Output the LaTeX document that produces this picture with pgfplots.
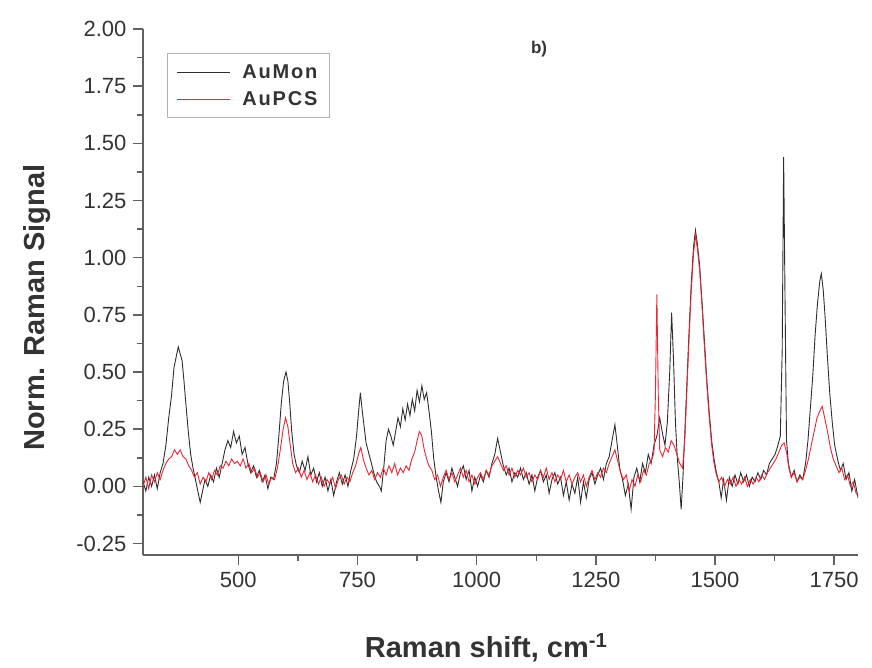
\documentclass[border=0pt]{standalone}
\usepackage{pgfplots}
\pgfplotsset{compat=1.18}
\usepackage{fontspec}
\setmainfont{Liberation Sans}
\definecolor{axgray}{gray}{0.38}
\definecolor{txtgray}{gray}{0.2}
\definecolor{monline}{rgb}{0.18,0.18,0.18}
\definecolor{pcsline}{rgb}{0.93,0.15,0.2}
\begin{document}
\begin{tikzpicture}
\begin{axis}[
  scale only axis,
  width=715pt, height=526pt,
  xmin=300, xmax=1800, ymin=-0.3, ymax=2.0,
  axis lines*=left,
  axis line style={axgray, line width=1.8pt},
  every tick/.style={axgray, line width=1.5pt},
  tick align=outside,
  major tick length=10pt, minor tick length=6pt,
  xtick={500,750,1000,1250,1500,1750},
  ytick={-0.25,0,0.25,0.5,0.75,1.0,1.25,1.5,1.75,2.0},
  minor x tick num=1, minor y tick num=1,
  /pgf/number format/assume math mode=true,
  x tick label style={/pgf/number format/fixed, /pgf/number format/set thousands separator={}, yshift=-4pt},
  y tick label style={/pgf/number format/fixed, /pgf/number format/fixed zerofill, /pgf/number format/precision=2, xshift=-3pt},
  tick label style={font=\fontsize{22}{26}\selectfont, text=txtgray},
  xlabel={\textbf{Raman shift, cm\textsuperscript{-1}}},
  ylabel={\textbf{Norm. Raman Signal}},
  label style={font=\fontsize{29}{33}\selectfont, text=txtgray},
  xlabel style={at={(axis description cs:0.48,0)}, anchor=base, yshift=-102pt},
  ylabel style={at={(axis description cs:-0.148,0.47)}, anchor=center},
  legend style={at={(rel axis cs:0.0336,0.954)}, anchor=north west,
    draw=black!30, line width=1pt,
    font=\fontsize{20}{24}\selectfont\bfseries\addfontfeature{LetterSpace=9},
    text=txtgray, inner xsep=9pt, inner ysep=5pt,
    nodes={inner sep=3pt, minimum height=27pt}},
  legend cell align=left,
  legend image code/.code={\draw[#1, line width=1pt] (0pt,0pt) -- (53pt,0pt); \path (62pt,0pt);},
  clip=true,
]
\addplot[monline, line width=0.9pt] coordinates {
(300,0.02)(306,-0.02)(312,0.04)(318,0.00)(324,0.05)(330,-0.01)(336,0.06)(342,0.10)(348,0.18)(354,0.30)
(360,0.40)(365,0.52)(370,0.57)(374,0.61)(378,0.58)(382,0.55)(386,0.46)(390,0.36)(395,0.24)(400,0.14)
(405,0.08)(410,0.03)(415,-0.02)(420,-0.07)(425,-0.02)(430,0.03)(436,0.00)(442,0.05)(448,0.02)(454,0.08)
(460,0.04)(466,0.10)(472,0.16)(478,0.20)(484,0.17)(490,0.24)(496,0.19)(502,0.22)(508,0.14)(514,0.17)
(520,0.10)(526,0.06)(532,0.09)(538,0.04)(544,0.07)(550,0.02)(556,0.05)(562,-0.01)(568,0.04)(574,0.03)
(580,0.10)(585,0.22)(590,0.36)(595,0.46)(600,0.50)(604,0.46)(608,0.36)(612,0.24)(617,0.14)(622,0.09)
(628,0.06)(634,0.11)(640,0.07)(646,0.13)(652,0.05)(658,0.08)(664,0.02)(670,0.06)(676,0.00)(682,0.04)
(688,-0.02)(694,0.03)(700,-0.04)(706,0.02)(712,0.06)(718,0.01)(724,0.05)(730,0.00)(736,0.07)(742,0.12)
(748,0.22)(752,0.32)(756,0.41)(760,0.33)(764,0.26)(768,0.19)(773,0.15)(778,0.11)(784,0.06)(790,0.02)
(796,0.00)(800,-0.02)(805,0.08)(810,0.20)(815,0.25)(820,0.22)(825,0.18)(830,0.24)(835,0.30)(840,0.26)
(845,0.34)(850,0.29)(855,0.36)(860,0.31)(865,0.38)(870,0.33)(875,0.42)(880,0.37)(885,0.44)(890,0.38)
(895,0.41)(900,0.33)(905,0.24)(910,0.12)(915,0.04)(920,-0.02)(925,-0.07)(930,0.02)(936,0.06)(942,0.02)
(948,0.08)(954,0.04)(960,0.00)(966,0.06)(972,0.09)(978,0.03)(984,0.07)(990,-0.02)(996,0.04)(1002,0.00)
(1008,0.05)(1014,0.02)(1020,0.07)(1026,0.04)(1032,0.10)(1038,0.14)(1044,0.21)(1050,0.15)(1056,0.09)(1062,0.05)
(1068,0.08)(1074,0.02)(1080,0.06)(1086,0.04)(1092,0.08)(1098,0.03)(1104,0.06)(1110,0.01)(1116,0.05)(1122,-0.02)
(1128,0.04)(1134,0.07)(1140,0.02)(1146,0.05)(1152,-0.03)(1158,0.03)(1164,0.06)(1170,0.01)(1176,0.04)(1182,-0.04)
(1188,0.02)(1194,-0.06)(1200,0.01)(1206,-0.03)(1212,0.04)(1218,-0.07)(1224,0.02)(1230,-0.05)(1236,0.03)(1242,0.06)
(1248,0.01)(1254,0.05)(1260,0.08)(1266,0.03)(1272,0.10)(1278,0.13)(1284,0.20)(1290,0.27)(1295,0.18)(1300,0.08)
(1306,0.03)(1312,-0.04)(1318,0.01)(1324,-0.10)(1330,0.04)(1336,0.08)(1342,0.02)(1348,0.10)(1354,0.06)(1360,0.14)
(1366,0.10)(1372,0.18)(1378,0.22)(1384,0.30)(1390,0.23)(1395,0.18)(1400,0.28)(1405,0.50)(1409,0.76)(1413,0.55)
(1417,0.28)(1421,0.12)(1425,0.02)(1429,-0.10)(1433,0.05)(1437,0.25)(1441,0.45)(1445,0.65)(1450,0.88)(1455,1.05)
(1459,1.12)(1463,1.06)(1468,0.96)(1473,0.80)(1478,0.63)(1483,0.46)(1488,0.32)(1493,0.20)(1498,0.12)(1503,0.06)
(1508,0.02)(1513,-0.05)(1518,0.03)(1524,-0.06)(1530,0.04)(1536,0.00)(1542,0.05)(1548,0.01)(1554,0.06)(1560,0.02)
(1566,0.05)(1572,0.00)(1578,0.04)(1584,0.02)(1590,0.06)(1596,0.03)(1602,0.07)(1608,0.05)(1614,0.10)(1620,0.12)
(1626,0.14)(1632,0.18)(1637,0.22)(1641,0.60)(1644,1.44)(1647,0.80)(1650,0.20)(1654,0.10)(1660,0.04)(1666,0.07)
(1672,0.02)(1678,0.05)(1684,0.03)(1690,0.10)(1695,0.20)(1700,0.34)(1705,0.48)(1710,0.66)(1715,0.80)(1720,0.90)
(1723,0.93)(1727,0.86)(1731,0.74)(1736,0.56)(1741,0.40)(1746,0.28)(1751,0.18)(1757,0.12)(1763,0.07)(1769,0.10)
(1775,0.03)(1781,0.06)(1787,-0.02)(1793,0.03)(1800,-0.05)
};
\addlegendentry{AuMon}
\addplot[pcsline, line width=0.9pt] coordinates {
(300,0.00)(306,0.04)(312,-0.01)(318,0.05)(324,0.02)(330,0.06)(336,0.03)(342,0.07)(348,0.10)(354,0.12)
(360,0.13)(366,0.16)(372,0.14)(378,0.16)(384,0.13)(390,0.12)(396,0.09)(402,0.07)(408,0.04)(414,0.06)
(420,0.01)(426,0.04)(432,0.02)(438,0.06)(444,0.03)(450,0.07)(456,0.05)(462,0.09)(468,0.08)(474,0.11)
(480,0.09)(486,0.12)(492,0.10)(498,0.11)(504,0.09)(510,0.12)(516,0.08)(522,0.10)(528,0.06)(534,0.08)
(540,0.04)(546,0.06)(552,0.02)(558,0.05)(564,0.01)(570,0.04)(576,0.03)(582,0.08)(588,0.16)(594,0.25)
(599,0.30)(604,0.26)(609,0.18)(614,0.10)(620,0.06)(626,0.08)(632,0.04)(638,0.07)(644,0.03)(650,0.06)
(656,0.02)(662,0.05)(668,0.01)(674,0.04)(680,0.00)(686,0.03)(692,0.01)(698,0.04)(704,-0.01)(710,0.03)
(716,0.05)(722,0.01)(728,0.04)(734,0.02)(740,0.06)(746,0.09)(752,0.14)(757,0.17)(762,0.12)(768,0.08)
(774,0.05)(780,0.07)(786,0.03)(792,0.06)(798,0.04)(804,0.08)(810,0.05)(816,0.09)(822,0.06)(828,0.10)
(834,0.05)(840,0.08)(846,0.06)(852,0.09)(858,0.07)(864,0.12)(870,0.15)(875,0.20)(880,0.24)(885,0.22)
(890,0.16)(895,0.12)(900,0.09)(906,0.07)(912,0.03)(918,0.05)(924,0.00)(930,0.04)(936,0.07)(942,0.03)
(948,0.06)(954,0.02)(960,0.05)(966,0.08)(972,0.04)(978,0.07)(984,0.02)(990,0.05)(996,0.01)(1002,0.04)
(1008,0.06)(1014,0.03)(1020,0.07)(1026,0.05)(1032,0.09)(1038,0.11)(1044,0.13)(1050,0.10)(1056,0.07)(1062,0.09)
(1068,0.05)(1074,0.08)(1080,0.04)(1086,0.07)(1092,0.05)(1098,0.08)(1104,0.04)(1110,0.06)(1116,0.02)(1122,0.05)
(1128,0.03)(1134,0.07)(1140,0.04)(1146,0.08)(1152,0.03)(1158,0.06)(1164,0.02)(1170,0.05)(1176,0.03)(1182,0.07)
(1188,0.02)(1194,0.05)(1200,0.01)(1206,0.04)(1212,0.06)(1218,0.02)(1224,0.05)(1230,0.00)(1236,0.04)(1242,0.07)
(1248,0.03)(1254,0.06)(1260,0.04)(1266,0.08)(1272,0.06)(1278,0.10)(1284,0.13)(1290,0.16)(1296,0.11)(1302,0.06)
(1308,0.03)(1314,0.05)(1320,-0.02)(1326,0.03)(1332,0.00)(1338,0.05)(1344,0.02)(1350,0.07)(1356,0.05)(1362,0.10)
(1368,0.12)(1372,0.15)(1375,0.40)(1378,0.84)(1381,0.40)(1384,0.16)(1390,0.13)(1396,0.17)(1402,0.15)(1408,0.20)
(1414,0.18)(1420,0.14)(1426,0.10)(1432,0.08)(1437,0.22)(1441,0.42)(1445,0.62)(1450,0.85)(1455,1.02)(1459,1.10)
(1463,1.04)(1468,0.94)(1473,0.78)(1478,0.60)(1483,0.44)(1488,0.30)(1493,0.18)(1498,0.10)(1503,0.05)(1508,0.02)
(1514,0.04)(1520,0.00)(1526,0.03)(1532,0.01)(1538,0.04)(1544,0.00)(1550,0.03)(1556,0.01)(1562,0.04)(1568,0.00)
(1574,0.03)(1580,0.01)(1586,0.04)(1592,0.02)(1598,0.05)(1604,0.03)(1610,0.06)(1616,0.08)(1622,0.10)(1628,0.12)
(1634,0.15)(1640,0.18)(1645,0.19)(1650,0.15)(1655,0.08)(1660,0.04)(1666,0.06)(1672,0.02)(1678,0.04)(1684,0.03)
(1690,0.07)(1696,0.12)(1702,0.18)(1708,0.24)(1714,0.30)(1720,0.33)(1725,0.35)(1730,0.30)(1736,0.24)(1742,0.17)
(1748,0.12)(1754,0.09)(1760,0.06)(1766,0.08)(1772,0.03)(1778,0.05)(1784,0.00)(1790,0.02)(1796,-0.03)(1800,-0.04)
};
\addlegendentry{AuPCS}
\node[font=\fontsize{17}{20}\selectfont\bfseries, text=txtgray] at (rel axis cs:0.554,0.962) {b)};
\end{axis}
\pgfresetboundingbox
\path (-143pt,-113pt) rectangle (729pt,555pt);
\end{tikzpicture}
\end{document}
